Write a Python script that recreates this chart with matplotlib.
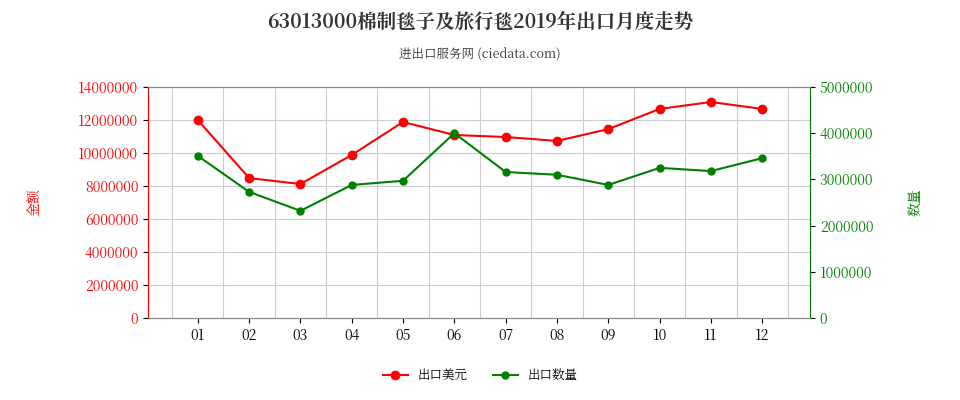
import matplotlib
matplotlib.use("Agg")
import matplotlib.pyplot as plt
from matplotlib import font_manager as fm
import numpy as np

cjk = None
for f in fm.findSystemFonts():
    if 'CJK' in f or 'cjk' in f.lower():
        try:
            fm.fontManager.addfont(f)
            if cjk is None or 'SC' in f:
                cjk = fm.FontProperties(fname=f).get_name()
        except Exception:
            pass
plt.rcParams['font.family'] = [cjk or 'Noto Sans CJK SC', 'DejaVu Sans']

months = ['01','02','03','04','05','06','07','08','09','10','11','12']
value_usd = [12000000, 8480000, 8120000, 9880000, 11880000, 11090000, 10970000, 10730000, 11450000, 12670000, 13090000, 12670000]
quantity = [3510000, 2730000, 2320000, 2880000, 2970000, 4000000, 3160000, 3100000, 2880000, 3250000, 3180000, 3460000]
left_ticks = [0, 2000000, 4000000, 6000000, 8000000, 10000000, 12000000, 14000000]
right_ticks = [0, 1000000, 2000000, 3000000, 4000000, 5000000]

fig = plt.figure(figsize=(9.6, 4.0), dpi=100)
ax = fig.add_axes([148/960, 1-318/400, (810-148)/960, (318-87)/400])
ax2 = ax.twinx()
x = np.arange(len(months))

ax.set_xlim(-0.97, 11.93)
ax.set_ylim(0, 14000000)
ax2.set_ylim(0, 5000000)
ax.set_yticks(left_ticks)
ax.set_yticklabels([str(v) for v in left_ticks], color='#ff0000', fontsize=10)
ax2.set_yticks(right_ticks)
ax2.set_yticklabels([str(v) for v in right_ticks], color='#008000', fontsize=10)
ax.set_xticks(x)
ax.set_xticklabels(months, fontsize=10)
ax.set_xticks(np.arange(-0.5, 12, 1), minor=True)
ax.grid(True, which='minor', axis='x', color='#cccccc', lw=0.8)
ax.grid(True, which='major', axis='y', color='#cccccc', lw=0.8)
ax.tick_params(axis='x', which='minor', length=0)
ax.set_axisbelow(True)
for a in (ax, ax2):
    for s in a.spines.values():
        s.set_color('#888888')
ax.spines['left'].set_color('#ff0000')
ax2.spines['left'].set_color('#ff0000')
ax2.spines['right'].set_color('#008000')

l1, = ax.plot(x, value_usd, color='#ff0000', marker='o', ms=6, lw=1.5, label='出口美元')
l2, = ax2.plot(x, quantity, color='#008000', marker='o', ms=5, lw=1.5, label='出口数量')

ax.set_ylabel('金额', color='#ff0000', fontsize=10, labelpad=25)
ax2.set_ylabel('数量', color='#008000', fontsize=10, labelpad=25)

fig.text(0.5, 1-22/400, '63013000棉制毯子及旅行毯2019年出口月度走势', ha='center', va='center', fontsize=14, fontweight='bold', color='#333333')
fig.text(0.5, 1-54/400, '进出口服务网 (ciedata.com)', ha='center', va='center', fontsize=9, color='#333333')
fig.legend(handles=[l1, l2], loc='center', bbox_to_anchor=(0.5, 1-375/400), ncol=2, frameon=False, fontsize=9)

fig.savefig('out.png', dpi=100)
